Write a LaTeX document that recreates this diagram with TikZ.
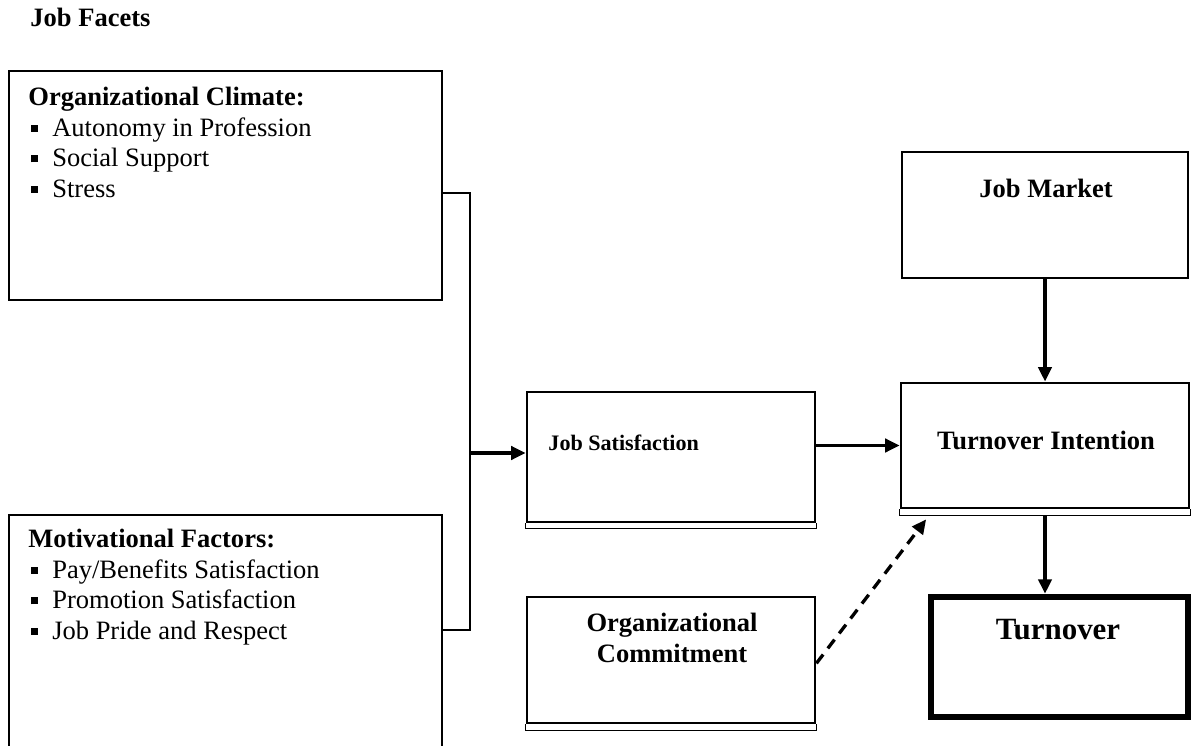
\documentclass[tikz,border=0pt]{standalone}
\usepackage{fontspec}
\setmainfont{Liberation Serif}
\usepackage{tikz}
\usetikzlibrary{arrows.meta}
\tikzstyle{thinbox} = [rectangle, draw=black, line width=0.6pt, inner sep=0pt]
\tikzstyle{thickbox} = [rectangle, draw=black, line width=1.3pt, inner sep=0pt]
\tikzstyle{heavybox} = [rectangle, draw=black, line width=3pt, inner sep=0pt]
\tikzstyle{listtext} = [align=left, inner sep=0pt, anchor=north west, font=\fontsize{12}{13.8}\selectfont]
\tikzstyle{boxtext} = [align=center, inner sep=0pt, font=\bfseries\fontsize{12}{13.8}\selectfont]
\tikzstyle{arrow} = [line width=1.5pt, -{Triangle[length=6.5pt,width=6pt]}]
\tikzstyle{dasharrow} = [arrow, dash pattern=on 5pt off 3.5pt]
\tikzstyle{bracket} = [line width=0.6pt]
\newcommand{\bul}{\hspace*{1pt}\rule[2pt]{3.3pt}{3.3pt}\hspace*{6.5pt}}

\begin{document}
\begin{tikzpicture}[x=0.4525pt, y=-0.4525pt]
  \clip (0,0) rectangle (1192,745);

  \node[boxtext, anchor=base west] (facets) at (30,27) {Job Facets};

  % job facets boxes
  \node[thinbox, minimum width=195.9pt, minimum height=103.6pt] (oc) at (225.5,185.5) {};
  \node[thinbox, minimum width=195.9pt, minimum height=117.7pt] (mf) at (225.5,645) {};
  \node[listtext] (octext) at (28,87) {\textbf{Organizational Climate:}\\
    \bul Autonomy in Profession\\
    \bul Social Support\\
    \bul Stress};
  \node[listtext] (mftext) at (28,529) {\textbf{Motivational Factors:}\\
    \bul Pay/Benefits Satisfaction\\
    \bul Promotion Satisfaction\\
    \bul Job Pride and Respect};

  % middle column
  \node[thickbox, minimum width=130.3pt, minimum height=58.8pt] (js) at (671,457) {};
  \node[boxtext, anchor=west, font=\bfseries\fontsize{10}{12}\selectfont] (jstext) at (548,443) {Job Satisfaction};
  \draw[bracket] (js.south west) -- ++(0,5) -| (js.south east);
  \node[thickbox, minimum width=130.3pt, minimum height=57pt] (oco) at (671,660) {};
  \node[boxtext] (ocotext) at (672,638) {Organizational\\Commitment};
  \draw[bracket] (oco.south west) -- ++(0,6) -| (oco.south east);

  % right column
  \node[thinbox, minimum width=129.4pt, minimum height=57pt] (jm) at (1045,215) {};
  \node[boxtext] (jmtext) at (1046,188) {Job Market};
  \node[thickbox, minimum width=130.3pt, minimum height=56.6pt] (ti) at (1045,445.5) {};
  \node[boxtext] (titext) at (1046,440) {Turnover Intention};
  \draw[bracket] (ti.south west) -- ++(0,6) -| (ti.south east);
  \node[heavybox, minimum width=116.3pt, minimum height=54.3pt] (to) at (1059.5,657) {};
  \node[boxtext, font=\bfseries\fontsize{14}{16}\selectfont] (totext) at (1058,630) {Turnover};

  % connectors
  \coordinate (topjoin) at (470,193);
  \coordinate (botjoin) at (470,630);
  \coordinate (midjoin) at (470,453);
  \draw[bracket] (oc.east |- topjoin) -- (topjoin) -- (botjoin) -- (mf.east |- botjoin);
  \draw[arrow] (midjoin) -- (js.west |- midjoin);
  \draw[arrow] (js.east |- ti.west) -- (ti.west);
  \draw[arrow] (jm.south) -- (ti.north);
  \draw[arrow] ([yshift=-2.7pt]ti.south) -- (ti.south |- to.north);
  \draw[dasharrow] ([yshift=-1.5pt]oco.east) -- ([xshift=12pt,yshift=-4.5pt]ti.south west);
\end{tikzpicture}
\end{document}
